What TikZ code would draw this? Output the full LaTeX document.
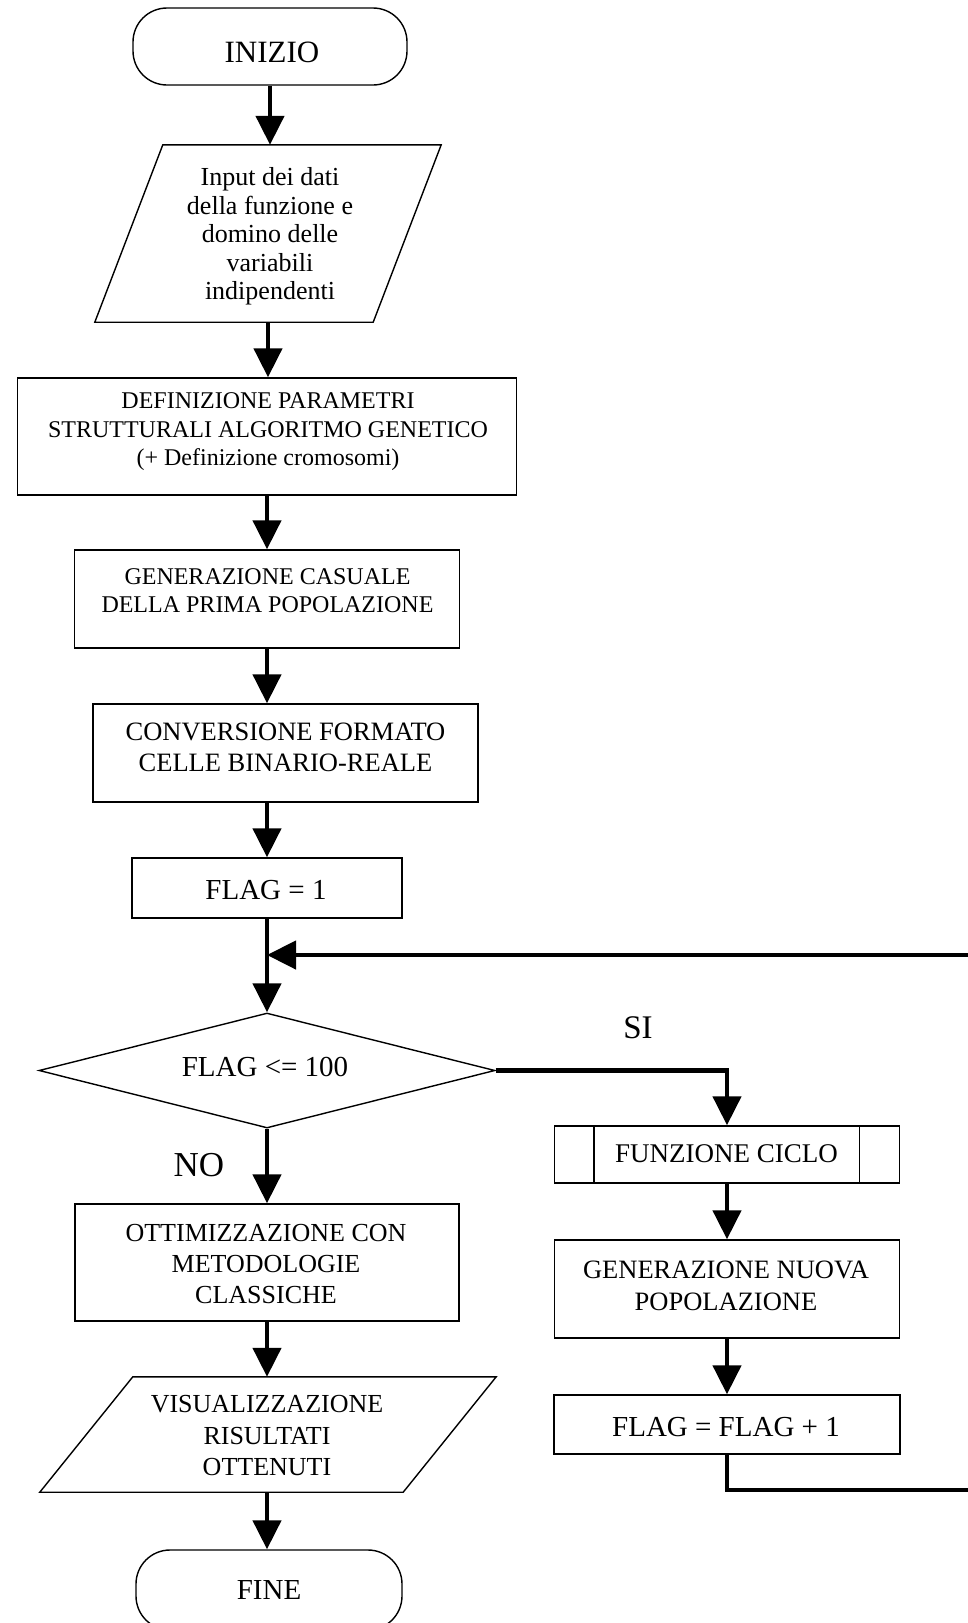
\documentclass[tikz,border=0pt]{standalone}
\usepackage{fontspec}
\setmainfont{Liberation Serif}
\usetikzlibrary{arrows.meta,shapes.geometric}

\tikzset{
  box/.style={draw=black, line width=1.4pt, inner sep=0pt},
  process/.style={box, rectangle},
  terminal/.style={box, rectangle, rounded corners=34pt},
  decision/.style={box, diamond},
  frame/.style={rectangle, inner sep=0pt},
  lbl/.style={inner sep=0pt, align=center, text=black},
  flow/.style={draw=black, line width=4.5pt, -{Triangle[length=29pt,width=28pt]}},
}
\newcommand{\txtsize}[2]{\fontsize{#1}{#2}\selectfont}
% parallelogram drawn over the bounding frame #1, top edge shifted right by #2
\newcommand{\slantbox}[2]{\draw[box] ([xshift=#2]#1.north west) -- ([xshift=#2]#1.north east) -- ([xshift=-#2]#1.south east) -- ([xshift=-#2]#1.south west) -- cycle;}

\begin{document}
\begin{tikzpicture}[x=1pt,y=-1pt]
\fill[white] (0,0) rectangle (968,1623);
\useasboundingbox (0,0) rectangle (968,1623);

% ---------- main column ----------
\node[terminal, minimum width=274pt, minimum height=77pt] (start) at (270,46.5) {};
\node[lbl, font=\txtsize{31}{33}] (start-t) at (272,52) {INIZIO};

\node[frame, minimum width=278pt, minimum height=177pt] (inp) at (268,233.5) {};
\slantbox{inp}{34pt}
\node[lbl, font=\txtsize{26}{28.5}] (inp-t) at (270,236.5)
  {Input dei dati\\della funzione e\\domino delle\\variabili\\indipendenti};

\node[process, minimum width=499pt, minimum height=117pt] (def) at (267,436.5) {};
\node[lbl, font=\txtsize{24}{28.5}] (def-t) at (268,432)
  {DEFINIZIONE PARAMETRI\\STRUTTURALI ALGORITMO GENETICO\\(+ Definizione cromosomi)};

\node[process, minimum width=385pt, minimum height=98pt] (gen1) at (267,599) {};
\node[lbl, font=\txtsize{24}{28}] (gen1-t) at (267.5,591)
  {GENERAZIONE CASUALE\\DELLA PRIMA POPOLAZIONE};

\node[process, minimum width=385pt, minimum height=98pt] (conv) at (285.5,753) {};
\node[lbl, font=\txtsize{26.5}{31}] (conv-t) at (285.5,747.5)
  {CONVERSIONE FORMATO\\CELLE BINARIO-REALE};

\node[process, minimum width=270pt, minimum height=60pt] (flag1) at (267,888) {};
\node[lbl, font=\txtsize{29}{31}] (flag1-t) at (266,890) {FLAG = 1};

\coordinate (junc) at (267,955);

\node[decision, minimum width=456pt, minimum height=115pt] (dec) at (267,1070.5) {};
\node[lbl, font=\txtsize{29}{31}] (dec-t) at (265,1067) {FLAG <= 100};

\node[lbl, font=\txtsize{33}{35}] (si) at (638,1028) {SI};
\node[lbl, font=\txtsize{35}{37}] (no) at (199,1165) {NO};

\node[process, minimum width=384pt, minimum height=117pt] (ott) at (267,1262.5) {};
\node[lbl, font=\txtsize{26}{31}] (ott-t) at (266,1264)
  {OTTIMIZZAZIONE CON\\METODOLOGIE\\CLASSICHE};

\node[frame, minimum width=363pt, minimum height=115pt] (vis) at (268,1434.5) {};
\slantbox{vis}{46.5pt}
\node[lbl, font=\txtsize{26}{31.5}] (vis-t) at (267,1435.5)
  {VISUALIZZAZIONE\\RISULTATI\\OTTENUTI};

\node[terminal, minimum width=266pt, minimum height=80pt] (fine) at (269,1590) {};
\node[lbl, font=\txtsize{29}{31}] (fine-t) at (269,1590) {FINE};

% ---------- loop column ----------
\node[process, minimum width=345pt, minimum height=57pt] (fc) at (727,1154.5) {};
\draw[box] ([xshift=40pt]fc.north west) -- ([xshift=40pt]fc.south west);
\draw[box] ([xshift=-41pt]fc.north east) -- ([xshift=-41pt]fc.south east);
\node[lbl, font=\txtsize{27}{29}] (fc-t) at (726.5,1154) {FUNZIONE CICLO};

\node[process, minimum width=345pt, minimum height=98pt] (gen2) at (727,1289) {};
\node[lbl, font=\txtsize{26.5}{32}] (gen2-t) at (726,1286)
  {GENERAZIONE NUOVA\\POPOLAZIONE};

\node[process, minimum width=346pt, minimum height=59pt] (ff1) at (727,1424.5) {};
\node[lbl, font=\txtsize{29}{31}] (ff1-t) at (726,1427) {FLAG = FLAG + 1};

\coordinate (loopB) at (1000,1490);

% ---------- connectors ----------
\draw[flow] (start.south) -- (start.south |- inp.north);
\draw[flow] (inp.south) -- (inp.south |- def.north);
\draw[flow] (def.south -| gen1.north) -- (gen1.north);
\draw[flow] (gen1.south) -- (gen1.south |- conv.north);
\draw[flow] (conv.south -| flag1.north) -- (flag1.north);
\draw[flow] (flag1.south) -- (dec.north);
\draw[flow] (dec.east) -| (fc.north);
\draw[flow] (fc.south) -- (gen2.north);
\draw[flow] (gen2.south) -- (ff1.north);
\draw[flow] (ff1.south) |- (loopB) |- (junc);
\draw[flow] (dec.south) -- (ott.north);
\draw[flow] (ott.south) -- (ott.south |- vis.north);
\draw[flow] (vis.south -| ott.south) -- (ott.south |- fine.north);
\end{tikzpicture}
\end{document}
